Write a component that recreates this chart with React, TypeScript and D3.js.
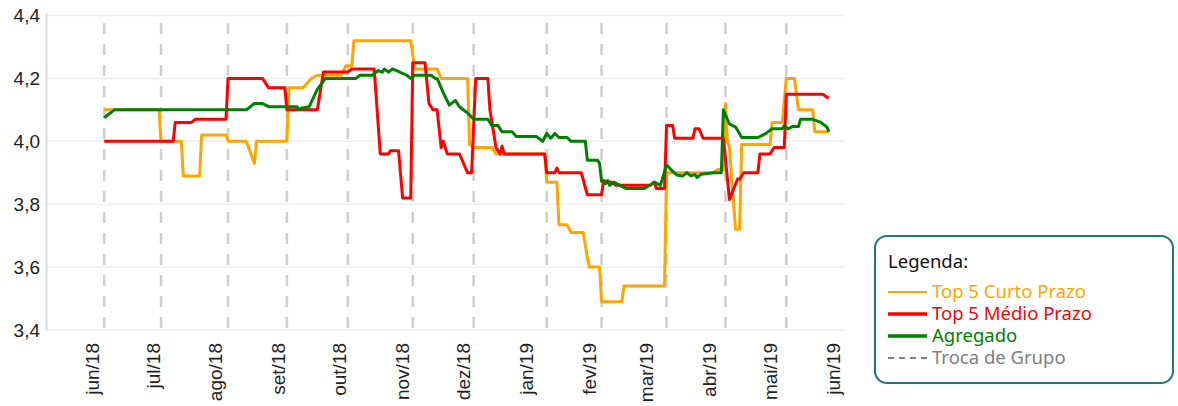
import React, { useEffect, useRef } from 'react';
import * as d3 from 'd3';

// Série: [data, taxa]
const curtoPrazo: [string, number][] = [
  ['2018-06-07', 4.10], ['2018-07-04', 4.10], ['2018-07-05', 4.00], ['2018-07-15', 4.00],
  ['2018-07-16', 3.89], ['2018-07-24', 3.89], ['2018-07-25', 4.02], ['2018-08-06', 4.02],
  ['2018-08-07', 4.00], ['2018-08-16', 4.00], ['2018-08-20', 3.93], ['2018-08-21', 4.00],
  ['2018-09-05', 4.00], ['2018-09-06', 4.17], ['2018-09-13', 4.17], ['2018-09-17', 4.20],
  ['2018-09-20', 4.21], ['2018-10-02', 4.21], ['2018-10-04', 4.24], ['2018-10-07', 4.24],
  ['2018-10-08', 4.32], ['2018-11-05', 4.32], ['2018-11-07', 4.23], ['2018-11-18', 4.23],
  ['2018-11-20', 4.20], ['2018-12-03', 4.20], ['2018-12-04', 3.99], ['2018-12-07', 3.98],
  ['2018-12-15', 3.98], ['2018-12-17', 3.96], ['2019-01-10', 3.96], ['2019-01-11', 3.87],
  ['2019-01-16', 3.87], ['2019-01-17', 3.735], ['2019-01-21', 3.735], ['2019-01-23', 3.71],
  ['2019-01-29', 3.71], ['2019-01-31', 3.63], ['2019-02-01', 3.60], ['2019-02-06', 3.60],
  ['2019-02-07', 3.49], ['2019-02-17', 3.49], ['2019-02-18', 3.54], ['2019-03-10', 3.54],
  ['2019-03-11', 3.90], ['2019-04-03', 3.90], ['2019-04-05', 3.91], ['2019-04-08', 3.91],
  ['2019-04-09', 4.12], ['2019-04-10', 4.00], ['2019-04-11', 3.98], ['2019-04-14', 3.72],
  ['2019-04-16', 3.72], ['2019-04-17', 3.99], ['2019-05-01', 3.99], ['2019-05-02', 4.06],
  ['2019-05-07', 4.06], ['2019-05-09', 4.20], ['2019-05-13', 4.20], ['2019-05-15', 4.10],
  ['2019-05-22', 4.10], ['2019-05-23', 4.03], ['2019-05-30', 4.03],
];

const medioPrazo: [string, number][] = [
  ['2018-06-07', 4.00], ['2018-07-11', 4.00], ['2018-07-12', 4.06], ['2018-07-20', 4.06],
  ['2018-07-22', 4.07], ['2018-08-06', 4.07], ['2018-08-07', 4.20], ['2018-08-24', 4.20],
  ['2018-08-27', 4.17], ['2018-09-04', 4.17], ['2018-09-05', 4.10], ['2018-09-20', 4.10],
  ['2018-09-23', 4.22], ['2018-10-05', 4.22], ['2018-10-07', 4.23], ['2018-10-18', 4.23],
  ['2018-10-21', 3.96], ['2018-10-25', 3.96], ['2018-10-26', 3.97], ['2018-10-30', 3.97],
  ['2018-11-01', 3.82], ['2018-11-05', 3.82], ['2018-11-06', 4.25], ['2018-11-12', 4.25],
  ['2018-11-14', 4.12], ['2018-11-16', 4.10], ['2018-11-18', 4.10], ['2018-11-20', 3.98],
  ['2018-11-21', 4.00], ['2018-11-23', 3.96], ['2018-11-29', 3.96], ['2018-12-03', 3.90],
  ['2018-12-05', 3.90], ['2018-12-07', 4.20], ['2018-12-13', 4.20], ['2018-12-14', 4.10],
  ['2018-12-17', 3.98], ['2018-12-19', 3.96], ['2018-12-20', 3.985], ['2018-12-21', 3.96],
  ['2019-01-10', 3.96], ['2019-01-11', 3.90], ['2019-01-15', 3.90], ['2019-01-16', 3.915],
  ['2019-01-17', 3.90], ['2019-01-28', 3.90], ['2019-01-31', 3.83], ['2019-02-07', 3.83],
  ['2019-02-08', 3.875], ['2019-02-12', 3.87], ['2019-02-14', 3.86], ['2019-03-03', 3.86],
  ['2019-03-05', 3.87], ['2019-03-06', 3.85], ['2019-03-10', 3.85], ['2019-03-11', 4.05],
  ['2019-03-14', 4.05], ['2019-03-15', 4.01], ['2019-03-24', 4.01], ['2019-03-25', 4.04],
  ['2019-03-27', 4.04], ['2019-03-29', 4.01], ['2019-04-08', 4.01], ['2019-04-11', 3.815],
  ['2019-04-15', 3.88], ['2019-04-16', 3.88], ['2019-04-18', 3.90], ['2019-04-25', 3.90],
  ['2019-04-26', 3.96], ['2019-05-01', 3.96], ['2019-05-03', 3.98], ['2019-05-08', 3.98],
  ['2019-05-09', 4.15], ['2019-05-27', 4.15], ['2019-05-29', 4.14], ['2019-05-30', 4.14],
];

const agregado: [string, number][] = [
  ['2018-06-07', 4.075], ['2018-06-12', 4.10], ['2018-08-16', 4.10], ['2018-08-20', 4.12],
  ['2018-08-24', 4.12], ['2018-08-27', 4.11], ['2018-09-10', 4.11], ['2018-09-11', 4.10],
  ['2018-09-12', 4.105], ['2018-09-16', 4.11], ['2018-09-20', 4.165], ['2018-09-24', 4.20],
  ['2018-10-09', 4.20], ['2018-10-11', 4.21], ['2018-10-17', 4.21], ['2018-10-20', 4.225],
  ['2018-10-22', 4.22], ['2018-10-23', 4.23], ['2018-10-25', 4.22], ['2018-10-27', 4.23],
  ['2018-10-29', 4.225], ['2018-11-03', 4.21], ['2018-11-05', 4.20], ['2018-11-07', 4.21],
  ['2018-11-15', 4.21], ['2018-11-17', 4.20], ['2018-11-18', 4.20], ['2018-11-21', 4.155],
  ['2018-11-24', 4.115], ['2018-11-27', 4.13], ['2018-11-29', 4.11], ['2018-12-03', 4.09],
  ['2018-12-06', 4.07], ['2018-12-13', 4.07], ['2018-12-15', 4.05], ['2018-12-18', 4.05],
  ['2018-12-20', 4.03], ['2018-12-25', 4.03], ['2018-12-27', 4.015], ['2019-01-06', 4.015],
  ['2019-01-09', 4.00], ['2019-01-11', 4.025], ['2019-01-13', 4.01], ['2019-01-15', 4.025],
  ['2019-01-17', 4.012], ['2019-01-21', 4.012], ['2019-01-23', 4.00], ['2019-01-30', 4.00],
  ['2019-01-31', 3.94], ['2019-02-05', 3.94], ['2019-02-06', 3.93], ['2019-02-07', 3.873],
  ['2019-02-09', 3.865], ['2019-02-10', 3.875], ['2019-02-11', 3.86], ['2019-02-13', 3.87],
  ['2019-02-16', 3.86], ['2019-02-19', 3.85], ['2019-02-28', 3.85], ['2019-03-04', 3.865],
  ['2019-03-05', 3.87], ['2019-03-08', 3.86], ['2019-03-11', 3.925], ['2019-03-14', 3.905],
  ['2019-03-16', 3.893], ['2019-03-19', 3.89], ['2019-03-21', 3.90], ['2019-03-23', 3.89],
  ['2019-03-25', 3.895], ['2019-03-26', 3.885], ['2019-03-28', 3.895], ['2019-04-03', 3.90],
  ['2019-04-07', 3.90], ['2019-04-08', 4.10], ['2019-04-10', 4.07], ['2019-04-11', 4.055],
  ['2019-04-14', 4.045], ['2019-04-15', 4.035], ['2019-04-17', 4.012], ['2019-04-25', 4.012],
  ['2019-04-29', 4.025], ['2019-05-02', 4.04], ['2019-05-07', 4.04], ['2019-05-08', 4.05],
  ['2019-05-10', 4.04], ['2019-05-12', 4.047], ['2019-05-15', 4.047], ['2019-05-16', 4.07],
  ['2019-05-22', 4.07], ['2019-05-26', 4.06], ['2019-05-29', 4.045], ['2019-05-30', 4.03],
];

const trocaDeGrupo = [
  '2018-06-07', '2018-07-05', '2018-08-07', '2018-09-05', '2018-10-05', '2018-11-06',
  '2018-12-06', '2019-01-11', '2019-02-07', '2019-03-11', '2019-04-09', '2019-05-09',
];

const monthLabels = [
  'jun/18', 'jul/18', 'ago/18', 'set/18', 'out/18', 'nov/18', 'dez/18',
  'jan/19', 'fev/19', 'mar/19', 'abr/19', 'mai/19', 'jun/19',
];

const yTicks = [3.4, 3.6, 3.8, 4.0, 4.2, 4.4];

const legendItems = [
  { label: 'Top 5 Curto Prazo', color: '#ffa500', width: 2, dash: null },
  { label: 'Top 5 Médio Prazo', color: '#ff0000', width: 3.5, dash: null },
  { label: 'Agregado', color: '#008000', width: 3.5, dash: null },
  { label: 'Troca de Grupo', color: '#808080', width: 2, dash: '6,5' },
];

const App = () => {
  const svgRef = useRef<SVGSVGElement>(null);

  useEffect(() => {
    const svg = d3.select(svgRef.current);
    svg.selectAll('*').remove();

    const plot = { left: 46, right: 845, top: 15.5, bottom: 330 };
    const parse = d3.timeParse('%Y-%m-%d');
    const axisFont = '"Liberation Sans", Arial, sans-serif';
    const legendFont = '"Noto Sans", sans-serif';

    const x = d3.scaleTime()
      .domain([new Date(2018, 5, 1), new Date(2019, 5, 1)])
      .range([92, 833]);
    const y = d3.scaleLinear().domain([3.4, 4.4]).range([plot.bottom, plot.top]);

    // grid
    svg.append('g').selectAll('line')
      .data(yTicks)
      .enter()
      .append('line')
      .attr('x1', plot.left)
      .attr('x2', plot.right)
      .attr('y1', d => y(d))
      .attr('y2', d => y(d))
      .style('stroke', '#efefef')
      .style('stroke-width', 1.5);

    svg.append('line')
      .attr('x1', plot.left + 0.5).attr('x2', plot.left + 0.5)
      .attr('y1', 13).attr('y2', plot.bottom)
      .style('stroke', '#dcdcdc')
      .style('stroke-width', 2);

    // y labels
    svg.append('g').selectAll('text')
      .data(yTicks)
      .enter()
      .append('text')
      .attr('x', 40)
      .attr('y', d => y(d))
      .attr('dy', '0.35em')
      .attr('text-anchor', 'end')
      .style('font-family', axisFont)
      .style('font-size', '19px')
      .style('fill', '#222')
      .text(d => d.toFixed(1).replace('.', ','));

    // troca de grupo
    svg.append('g').selectAll('line')
      .data(trocaDeGrupo)
      .enter()
      .append('line')
      .attr('x1', d => x(parse(d)!))
      .attr('x2', d => x(parse(d)!))
      .attr('y1', 23)
      .attr('y2', plot.bottom + 2)
      .style('stroke', '#cfcfcf')
      .style('stroke-width', 2.5)
      .style('stroke-dasharray', '11,10');

    // x labels
    const months = d3.timeMonth.range(new Date(2018, 5, 1), new Date(2019, 5, 2));
    svg.append('g').selectAll('text')
      .data(months)
      .enter()
      .append('text')
      .attr('transform', d => `translate(${x(d)},343) rotate(-90)`)
      .attr('dy', '0.35em')
      .attr('text-anchor', 'end')
      .style('font-family', axisFont)
      .style('font-size', '19px')
      .style('fill', '#222')
      .text((d, i) => monthLabels[i]);

    const line = d3.line<[string, number]>()
      .x(d => x(parse(d[0])!))
      .y(d => y(d[1]));

    const series = [
      { data: curtoPrazo, color: '#ffa500' },
      { data: medioPrazo, color: '#ff0000' },
      { data: agregado, color: '#008000' },
    ];
    series.forEach(s => {
      svg.append('path')
        .datum(s.data)
        .attr('d', line)
        .style('fill', 'none')
        .style('stroke', s.color)
        .style('stroke-width', 3)
        .style('stroke-linejoin', 'round');
    });

    // legend
    const lg = svg.append('g');
    lg.append('rect')
      .attr('x', 875).attr('y', 236)
      .attr('width', 298).attr('height', 147)
      .attr('rx', 12)
      .style('fill', '#fff')
      .style('stroke', '#1b7b7b')
      .style('stroke-width', 2);
    lg.append('text')
      .attr('x', 888).attr('y', 268)
      .style('font-family', legendFont)
      .style('font-size', '18.5px')
      .style('fill', '#111')
      .text('Legenda:');
    legendItems.forEach((item, i) => {
      const by = 298 + i * 22;
      lg.append('line')
        .attr('x1', 888).attr('x2', 927)
        .attr('y1', by - 6).attr('y2', by - 6)
        .style('stroke', item.color)
        .style('stroke-width', item.width)
        .style('stroke-dasharray', item.dash);
      lg.append('text')
        .attr('x', 932).attr('y', by)
        .style('font-family', legendFont)
        .style('font-size', '18.5px')
        .style('fill', item.color)
        .text(item.label);
    });
  }, []);

  return (
    <svg ref={svgRef} width={1178} height={406}
      style={{ position: 'absolute', left: 0, top: 0, background: '#fff' }} />
  );
};

export default App;
